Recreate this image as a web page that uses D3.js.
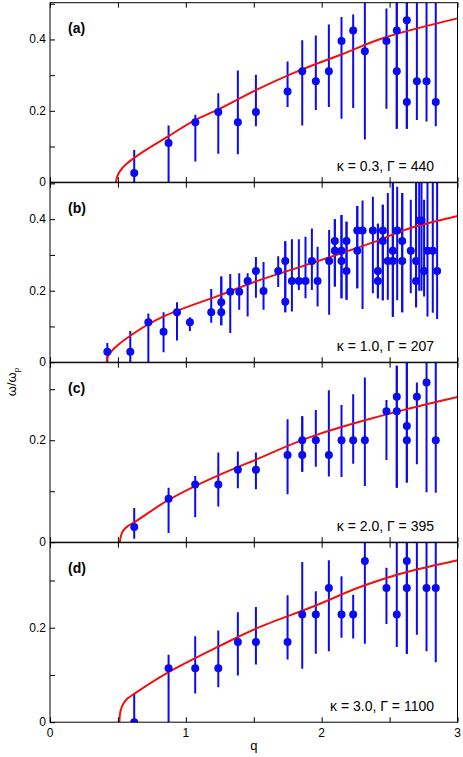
<!DOCTYPE html>
<html><head><meta charset="utf-8">
<script src="https://cdn.jsdelivr.net/npm/d3@7"></script>
<style>body{margin:0;background:#fff}text{font-family:"Liberation Sans",Arial,sans-serif}</style>
</head><body><svg id="c" width="463" height="757"></svg>
<script>
// Data: [q, value, errLow, errHigh]
const panelLabels = ["(a)","(b)","(c)","(d)"];
const panelNotes = ["κ = 0.3, Γ = 440","κ = 1.0, Γ = 207","κ = 2.0, Γ = 395","κ = 3.0, Γ = 1100"];
const yMax = [0.503, 0.502, 0.352, 0.38];
const yTicks = [[0,0.2,0.4],[0,0.2,0.4],[0,0.2],[0,0.2]];
const xTicks = [0,1,2,3];
const dataA = [
[0.62,0.026,0,0.09],[0.873,0.110,0,0.159],[1.07,0.168,0.058,0.189],[1.239,0.197,0.080,0.249],
[1.383,0.168,0.078,0.313],[1.516,0.197,0.157,0.301],[1.749,0.254,0.211,0.338],[1.857,0.311,0.159,0.398],
[1.957,0.283,0.202,0.411],[2.053,0.311,0.211,0.442],[2.146,0.396,0.178,0.463],[2.232,0.425,0.208,0.470],
[2.318,0.367,0.12,0.6],[2.477,0.396,0.206,0.487],[2.553,0.425,0.15,0.6],[2.553,0.311,0.15,0.6],
[2.627,0.454,0.15,0.6],[2.627,0.225,0.15,0.6],[2.701,0.283,0.174,0.6],[2.772,0.283,0.170,0.6],[2.840,0.225,0.157,0.6]];
const dataB = [
[0.422,0.029,0,0.054],[0.591,0.029,0,0.087],[0.724,0.112,0,0.136],[0.836,0.085,0.028,0.14],
[0.935,0.140,0.061,0.168],[1.030,0.112,0.087,0.126],[1.187,0.140,0.11,0.205],[1.261,0.168,0.103,0.240],
[1.261,0.140,0.103,0.240],[1.327,0.197,0.082,0.247],[1.393,0.197,0.147,0.249],[1.455,0.227,0.128,0.249],
[1.516,0.255,0.180,0.294],[1.572,0.199,0.147,0.28],[1.680,0.255,0.210,0.296],[1.732,0.283,0.140,0.338],
[1.732,0.169,0.140,0.338],[1.781,0.227,0.142,0.344],[1.832,0.227,0.202,0.344],[1.881,0.227,0.179,0.351],
[1.928,0.283,0.202,0.374],[1.970,0.227,0.156,0.323],[2.055,0.283,0.133,0.370],[2.097,0.339,0.212,0.400],
[2.097,0.312,0.212,0.400],[2.146,0.312,0.179,0.412],[2.146,0.283,0.179,0.412],[2.183,0.339,0.175,0.393],
[2.183,0.255,0.175,0.393],[2.262,0.312,0.207,0.437],[2.262,0.368,0.207,0.437],[2.301,0.368,0.149,0.452],
[2.377,0.368,0.193,0.463],[2.414,0.255,0.179,0.387],[2.414,0.227,0.179,0.387],[2.450,0.368,0.173,0.440],
[2.450,0.339,0.173,0.440],[2.487,0.283,0.175,0.473],[2.524,0.312,0.127,0.6],[2.524,0.283,0.127,0.6],
[2.556,0.368,0.173,0.491],[2.593,0.339,0.140,0.473],[2.593,0.283,0.140,0.473],[2.656,0.312,0.193,0.454],
[2.695,0.283,0.154,0.6],[2.695,0.227,0.154,0.6],[2.718,0.396,0.2,0.6],[2.735,0.396,0.2,0.6],
[2.754,0.255,0.184,0.454],[2.779,0.312,0.128,0.6],[2.818,0.312,0.138,0.6],[2.850,0.255,0.121,0.6]];
const dataC = [
[0.62,0.030,0.007,0.067],[0.873,0.085,0.018,0.107],[1.069,0.113,0.049,0.130],[1.239,0.113,0.070,0.176],
[1.383,0.142,0.106,0.178],[1.516,0.142,0.104,0.176],[1.749,0.171,0.094,0.241],[1.857,0.171,0.138,0.247],
[1.857,0.200,0.138,0.247],[1.957,0.200,0.148,0.259],[2.053,0.171,0.129,0.298],[2.146,0.200,0.128,0.269],
[2.232,0.200,0.154,0.290],[2.318,0.200,0.110,0.323],[2.477,0.257,0.161,0.279],[2.553,0.257,0.107,0.346],
[2.553,0.285,0.107,0.346],[2.627,0.228,0.117,0.4],[2.627,0.200,0.117,0.4],[2.701,0.285,0.153,0.313],
[2.772,0.313,0.098,0.4],[2.840,0.200,0.097,0.4]];
const dataD = [
[0.62,0,0,0.06],[0.873,0.114,0,0.143],[1.069,0.114,0.061,0.182],[1.239,0.114,0.074,0.194],
[1.383,0.170,0.099,0.233],[1.516,0.170,0.122,0.244],[1.749,0.170,0.133,0.269],[1.857,0.228,0.113,0.339],
[1.957,0.228,0.145,0.277],[2.053,0.284,0.150,0.343],[2.146,0.228,0.179,0.309],[2.232,0.228,0.177,0.270],
[2.318,0.341,0.166,0.45],[2.477,0.284,0.208,0.327],[2.553,0.228,0.159,0.45],[2.627,0.341,0.145,0.45],
[2.627,0.284,0.145,0.45],[2.701,0.40,0.185,0.45],[2.772,0.284,0.150,0.45],[2.840,0.284,0.127,0.45]];
// Fit curves, sampled from the figure: [q, value]
const curveA = [[0.486,0],[0.495,0.016],[0.515,0.031],[0.56,0.050],[0.62,0.068],[0.873,0.129],[1.069,0.174],[1.239,0.204],[1.516,0.258],[1.857,0.316],[2.146,0.358],[2.477,0.407],[3,0.459]];
const curveB = [[0.417,0],[0.425,0.016],[0.454,0.031],[0.50,0.048],[0.591,0.074],[0.836,0.128],[1.261,0.189],[1.516,0.226],[1.928,0.277],[2.377,0.335],[2.695,0.380],[3,0.409]];
const curveC = [[0.515,0],[0.522,0.012],[0.540,0.023],[0.57,0.031],[0.620,0.039],[0.873,0.083],[1.239,0.131],[1.516,0.162],[1.957,0.210],[2.318,0.239],[2.627,0.261],[3,0.285]];
const curveD = [[0.510,0],[0.518,0.022],[0.540,0.039],[0.57,0.050],[0.620,0.060],[0.873,0.106],[1.239,0.160],[1.516,0.198],[1.957,0.247],[2.318,0.290],[2.627,0.318],[3,0.343]];
const datasets=[dataA,dataB,dataC,dataD], curves=[curveA,curveB,curveC,curveD];

const svg=d3.select("#c");
const L=50,R=457.5, tops=[2.7,182.7,362.7,542.7], H=179.5;
const x=d3.scaleLinear().domain([0,3]).range([L,R]);
const blue="#0b0bf0";
datasets.forEach((data,i)=>{
  const t=tops[i], b=t+H;
  const y=d3.scaleLinear().domain([0,yMax[i]]).range([b,t]);
  const id="clip"+i;
  svg.append("clipPath").attr("id",id).append("rect").attr("x",L).attr("y",t).attr("width",R-L).attr("height",H);
  const g=svg.append("g").attr("clip-path",`url(#${id})`);
  g.selectAll(".e").data(data).join("line").attr("x1",d=>x(d[0])).attr("x2",d=>x(d[0]))
    .attr("y1",d=>y(d[2])).attr("y2",d=>y(d[3])).attr("stroke",blue).attr("stroke-width",2);
  g.append("path").datum(curves[i]).attr("fill","none").attr("stroke","#f01010").attr("stroke-width",2)
    .attr("d",d3.line().x(d=>x(d[0])).y(d=>y(d[1])).curve(d3.curveMonotoneY));
  g.selectAll(".p").data(data).join("circle").attr("cx",d=>x(d[0])).attr("cy",d=>y(d[1])).attr("r",4).attr("fill",blue);
  // axes (ticks inward)
  const ax=svg.append("g");
  ax.append("g").attr("transform",`translate(0,${b})`).call(d3.axisTop(x).tickValues(d3.range(0,3.01,0.5)).tickSize(5).tickFormat(""));
  ax.append("g").attr("transform",`translate(0,${t})`).call(d3.axisBottom(x).tickValues(d3.range(0,3.01,0.5)).tickSize(5).tickFormat(""));
  const yt=d3.range(0,yMax[i],0.1);
  ax.append("g").attr("transform",`translate(${L},0)`).call(d3.axisRight(y).tickValues(yt).tickSize(5).tickFormat(""));
  ax.selectAll(".domain").remove();
  ax.selectAll("line").attr("stroke","#000");
  svg.append("rect").attr("x",L).attr("y",t).attr("width",R-L).attr("height",H).attr("fill","none").attr("stroke","#000").attr("stroke-width",1);
  svg.selectAll(null).data(yTicks[i]).join("text").attr("x",46).attr("y",d=>y(d)+4).attr("text-anchor","end")
    .attr("font-size",12).text(d=>d===0?"0":d.toFixed(1));
  svg.append("text").attr("x",68).attr("y",t+30).attr("font-size",14).attr("font-weight","bold").text(panelLabels[i]);
  svg.append("text").attr("x",434).attr("y",t+168).attr("text-anchor","end").attr("font-size",14).text(panelNotes[i]);
});
svg.selectAll(null).data(xTicks).join("text").attr("x",d=>x(d)).attr("y",737).attr("text-anchor","middle").attr("font-size",12).text(d=>d);
svg.append("text").attr("x",x(1.5)).attr("y",750).attr("text-anchor","middle").attr("font-size",13).text("q");
const yl=svg.append("text").attr("transform","translate(16,382) rotate(-90)").attr("text-anchor","middle").attr("font-size",13);
yl.append("tspan").text("ω/ω");
yl.append("tspan").attr("font-size",8).attr("dy",3).text("p");
</script></body></html>
